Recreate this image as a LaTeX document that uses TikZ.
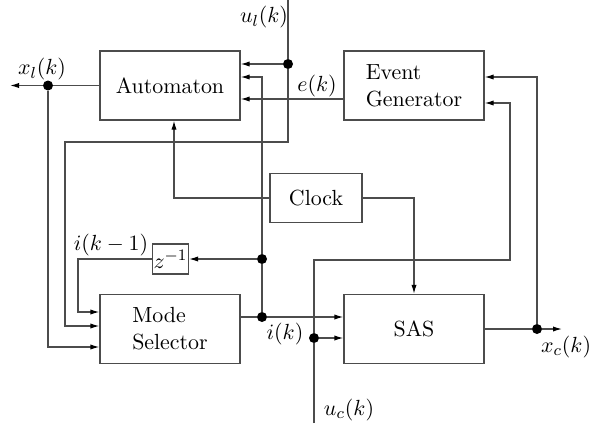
\documentclass[tikz,border=0pt,11pt]{standalone}
\usetikzlibrary{arrows.meta}
\tikzset{
  block/.style={draw=black!70, line width=0.6pt, minimum width=70pt, minimum height=34.5pt, align=left},
  sig/.style={draw=black!70, line width=0.6pt},
  arr/.style={sig, -{Latex[length=4.5pt,width=2.6pt,black]}},
  dot/.style={circle, fill=black, inner sep=0pt, minimum size=5pt},
}
\begin{document}
\begin{tikzpicture}[x=0.5pt,y=-0.5pt]
\useasboundingbox (0,0) rectangle (592,423);
\node[block] (auto) at (170,85.5) {Automaton};
\node[block] (evgen) at (414,85.5) {Event\\Generator};
\node[block] (mode) at (170,329) {Mode\\Selector};
\node[block] (sas) at (414,329) {SAS};
\node[block, minimum width=46pt, minimum height=24.5pt] (clock) at (316,198) {Clock};
\node[block, minimum width=17.5pt, minimum height=15pt, inner sep=0.5pt] (delay) at (170.5,259) {$z^{-1}$};

\node[dot] (uldot) at (288,64) {};
\node[dot] (xldot) at (48,85.5) {};
\node[dot] (ikdot) at (262,317) {};
\node[dot] (fbdot) at (262,259) {};
\node[dot] (ucdot) at (314,338) {};
\node[dot] (xcdot) at (537,329) {};
\coordinate (ultop) at (288,0);
\coordinate (xlend) at (10,85.5);
\coordinate (ucend) at (314,423);
\coordinate (xcend) at (562,329);

\draw[sig] (ultop) -- (uldot);
\draw[arr] (uldot) -- (uldot -| auto.east);
\draw[arr] (uldot) |- (65,142) |- (mode.west |- 0,326);
\draw[arr] (evgen.west |- 0,99) -- (auto.east |- 0,99);
\draw[sig] (auto.west) -- (xldot);
\draw[arr] (xldot) -- (xlend);
\draw[arr] (xldot) |- (mode.west |- 0,347);
\draw[arr] (clock.west) -| (auto.south -| 174,0);
\draw[arr] (clock.east) -| (sas.north);

\draw[sig] (mode.east |- ikdot) -- (ikdot);
\draw[arr] (ikdot) -- (ikdot -| sas.west);
\draw[sig] (ikdot) -- (fbdot);
\draw[arr] (fbdot) -- (delay.east);
\draw[arr] (fbdot) |- (auto.east |- 0,77);
\draw[arr] (delay.west) -- (78,259) |- (mode.west |- 0,312);

\draw[sig] (ucend) -- (ucdot);
\draw[arr] (ucdot) -- (ucdot -| sas.west);
\draw[arr] (ucdot) |- (510,260) |- (evgen.east |- 0,103);
\draw[sig] (sas.east) -- (xcdot);
\draw[arr] (xcdot) -- (xcend);
\draw[arr] (xcdot) |- (evgen.east |- 0,77);

\node (ullab) at (264,17) {$u_l(k)$};
\node (xllab) at (42,69) {$x_l(k)$};
\node (elab) at (317,86) {$e(k)$};
\node (iklab1) at (111,245) {$i(k-1)$};
\node (iklab) at (285,334) {$i(k)$};
\node (xclab) at (566,347) {$x_c(k)$};
\node (uclab) at (349,410) {$u_c(k)$};
\end{tikzpicture}
\end{document}
